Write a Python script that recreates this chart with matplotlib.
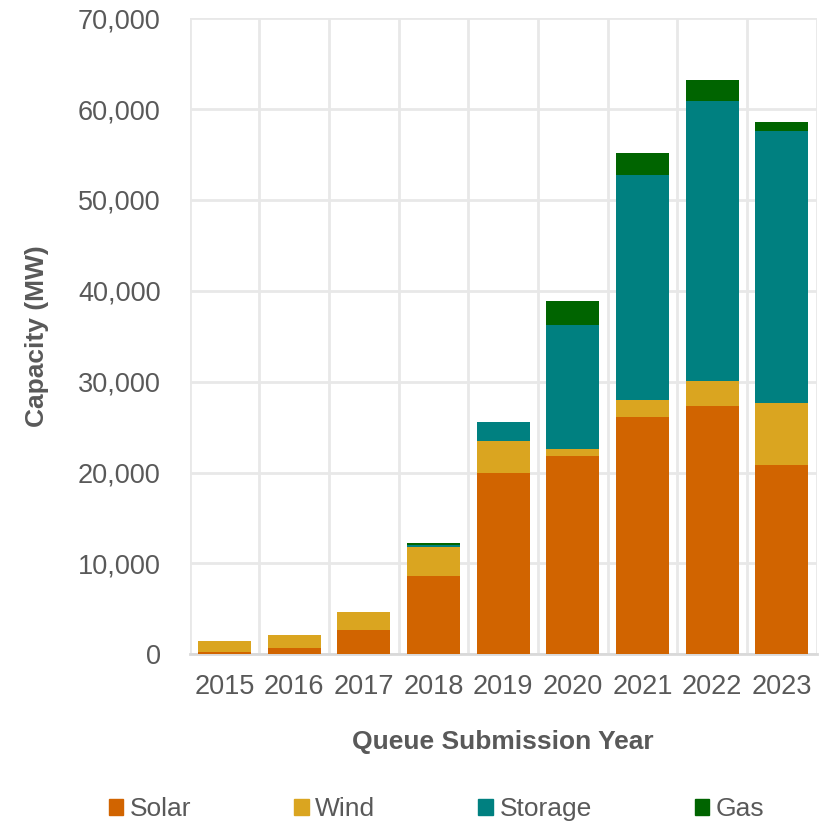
import matplotlib.pyplot as plt
import matplotlib.patches as mpatches
from matplotlib.ticker import FuncFormatter, MultipleLocator
import numpy as np

plt.rcParams['font.family'] = ['Liberation Sans', 'DejaVu Sans']

years = ['2015', '2016', '2017', '2018', '2019', '2020', '2021', '2022', '2023']
solar = [300, 740, 2670, 8660, 19960, 21790, 26160, 27290, 20800]
wind = [1160, 1350, 1950, 3120, 3480, 810, 1790, 2760, 6820]
storage = [0, 0, 0, 200, 2170, 13600, 24770, 30850, 29970]
gas = [0, 0, 0, 250, 0, 2650, 2420, 2270, 960]

series = [('Solar', solar, '#D16400'), ('Wind', wind, '#DAA520'),
          ('Storage', storage, '#008080'), ('Gas', gas, '#006400')]

grey = '#595959'
fig = plt.figure(figsize=(8.25, 8.24), dpi=100)
ax = fig.add_axes([0.230, 0.206, 0.760, 0.772])

x = np.arange(len(years))
bottom = np.zeros(len(years))
for name, vals, col in series:
    vals = np.array(vals, dtype=float)
    ax.bar(x, vals, width=0.76, bottom=bottom, color=col, label=name, zorder=3)
    bottom += vals

ax.set_xlim(-0.5, len(years) - 0.5)
ax.set_ylim(0, 70000)
ax.yaxis.set_major_locator(MultipleLocator(10000))
ax.yaxis.set_major_formatter(FuncFormatter(lambda v, p: f'{v:,.0f}'))
ax.set_xticks(x)
ax.set_xticklabels(years)
ax.set_xticks(np.arange(-0.5, len(years)), minor=True)
ax.grid(axis='y', which='major', color='#e8e8e8', lw=2, zorder=0)
ax.grid(axis='x', which='minor', color='#e8e8e8', lw=2, zorder=0)
ax.tick_params(axis='both', which='both', length=0, labelsize=19.5, colors=grey)
ax.tick_params(axis='y', pad=21)
ax.tick_params(axis='x', pad=14)
for s in ['top', 'right', 'left']:
    ax.spines[s].set_visible(False)
ax.spines['bottom'].set_color('#d9d9d9')
ax.spines['bottom'].set_linewidth(2)

ax.set_ylabel('Capacity (MW)', fontsize=19, fontweight='bold', color=grey, labelpad=21)
ax.set_xlabel('Queue Submission Year', fontsize=19, fontweight='bold', color=grey, labelpad=22)

handles = [mpatches.Patch(color=c, label=n) for n, _, c in series]
leg = fig.legend(handles=handles, loc='center', bbox_to_anchor=(0.529, 0.018), ncol=4,
                 frameon=False, fontsize=19, handlelength=0.55, handleheight=0.55,
                 handletextpad=0.25, columnspacing=3.9)
for t in leg.get_texts():
    t.set_color(grey)

fig.savefig('out.png', dpi=100, facecolor='white')
